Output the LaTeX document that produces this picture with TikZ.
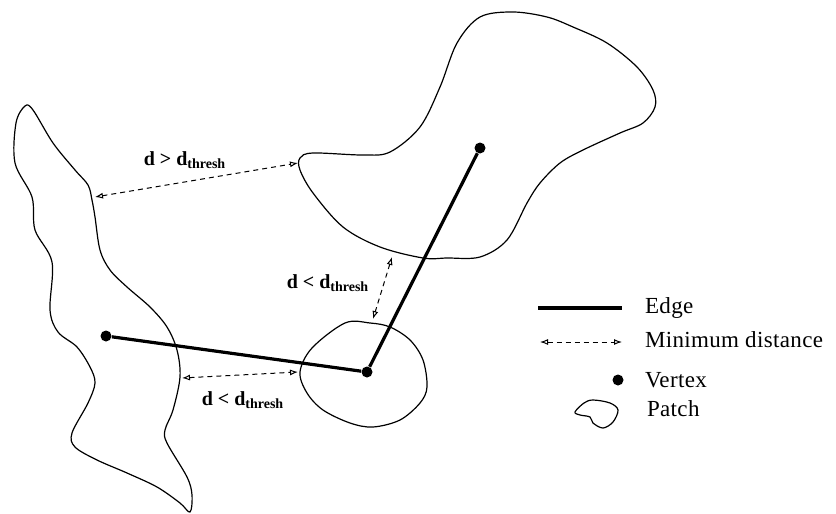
\documentclass[tikz,border=0pt]{standalone}
\usepackage{fontspec}
\setmainfont{Liberation Serif}
\newfontfamily\legfont[LetterSpace=1.5]{Liberation Serif}
\usetikzlibrary{arrows.meta}

\begin{document}
\begin{tikzpicture}[x=0.5pt, y=-0.5pt,
    patch/.style={draw, line width=0.6pt},
    edge/.style={line width=1.6pt},
    vertex/.style={circle, fill, inner sep=0pt, minimum size=5.5pt},
    mindist/.style={line width=0.5pt, dash pattern=on 2.5pt off 2pt,
        {Latex[open,length=4pt,width=3pt]}-{Latex[open,length=4pt,width=3pt]}},
    lab/.style={font=\bfseries\fontsize{10}{12}\selectfont},
    legtext/.style={anchor=base west, font=\legfont\fontsize{11.5}{14}\selectfont}]

    \useasboundingbox (0,0) rectangle (836,514);

    % Patches
    \draw[patch] plot[smooth cycle, tension=0.55] coordinates {
        (25,106) (16,123) (15,163) (32,197) (35,230) (52,262) (50,310) (58,332)
        (77,347) (90,367) (95,383) (88,403) (72,433) (75,447) (97,460) (127,473)
        (157,487) (180,503) (190,512) (192,495) (187,477) (167,443) (165,430)
        (173,410) (180,377) (177,350) (167,327) (150,307) (127,287) (110,270)
        (100,250) (95,217) (92,200) (88,185) (75,170) (53,143) (33,110)};
    \draw[patch] plot[smooth cycle, tension=0.55] coordinates {
        (300,158) (313,153) (363,155) (390,152) (420,127) (440,87) (457,43)
        (480,17) (513,12) (547,17) (573,27) (607,43) (637,67) (653,90) (655,107)
        (643,123) (620,133) (583,150) (560,163) (540,183) (527,203) (507,240)
        (480,257) (447,258) (423,258) (380,247) (343,227) (313,193) (300,170)};
    \draw[patch] plot[smooth cycle, tension=0.55] coordinates {
        (345,323) (370,323) (390,327) (410,340) (423,360) (427,387) (420,403)
        (400,420) (373,427) (350,423) (323,410) (307,393) (300,372) (312,348)};

    % Vertices and edges
    \node[vertex] (v1) at (106,336) {};
    \node[vertex] (v2) at (367,372) {};
    \node[vertex] (v3) at (480,148) {};
    \draw[edge] (v1) -- (v2);
    \draw[edge] (v2) -- (v3);

    % Minimum distances
    \coordinate (m1a) at (95,197);
    \coordinate (m1b) at (298,163);
    \coordinate (m2a) at (392,257);
    \coordinate (m2b) at (373,319);
    \coordinate (m3a) at (182,378);
    \coordinate (m3b) at (298,372);
    \draw[mindist] (m1a) -- (m1b);
    \draw[mindist] (m2a) -- (m2b);
    \draw[mindist] (m3a) -- (m3b);
    \node[lab] (d1) at (185,160) {d > d\textsubscript{thresh}};
    \node[lab] (d2) at (328,283) {d < d\textsubscript{thresh}};
    \node[lab] (d3) at (243,400) {d < d\textsubscript{thresh}};

    % Legend
    \coordinate (le1) at (538,308);
    \coordinate (le2) at (622,308);
    \coordinate (lm1) at (540,342);
    \coordinate (lm2) at (622,342);
    \draw[edge] (le1) -- (le2);
    \draw[mindist] (lm1) -- (lm2);
    \node[vertex] (lv) at (618,380) {};
    \draw[patch] plot[smooth cycle, tension=0.55] coordinates {
        (575,412) (584,403) (593,400) (610,403) (618,410) (613,422) (603,428)
        (593,423) (590,417) (580,415)};
    \node[legtext] (tedge) at (638,313) {Edge};
    \node[legtext] (tmin) at (638,347) {Minimum distance};
    \node[legtext] (tvert) at (638,387) {Vertex};
    \node[legtext] (tpatch) at (640,416) {Patch};
\end{tikzpicture}
\end{document}
